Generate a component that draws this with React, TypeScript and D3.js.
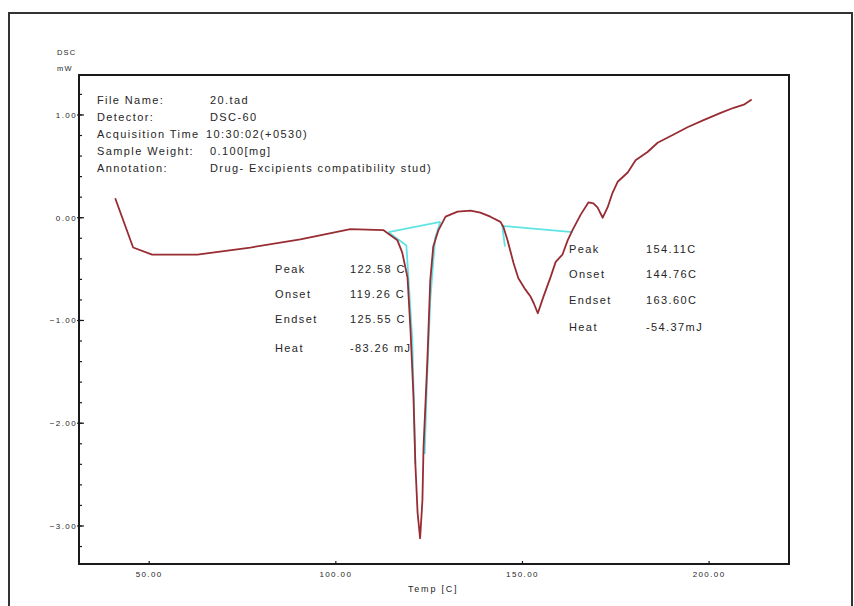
import React from "react";
import * as d3 from "d3";

// DSC thermogram: temperature (C) vs heat flow (mW)
const temps = [
  40.9, 45.7, 50.8, 62.9, 77.1, 90.5, 103.9, 112.7, 116.5, 117.8, 119.2, 120.0,
  120.8, 121.3, 121.9, 122.58, 123.2, 123.5, 124.5, 125.3, 126.1, 127.5, 129.4,
  132.6, 136.1, 138.7, 141.4, 144.1, 144.9, 146.0, 147.6, 148.9, 150.8, 152.2,
  153.0, 154.11, 155.6, 157.5, 158.9, 160.7, 162.1, 163.4, 165.6, 167.7, 169.0,
  170.1, 171.5, 172.8, 174.1, 175.5, 178.2, 180.3, 183.5, 186.2, 190.5, 194.2,
  198.5, 203.1, 206.6, 209.3, 211.4,
];
const heatFlow = [
  0.19, -0.29, -0.36, -0.36, -0.29, -0.21, -0.11, -0.12, -0.22, -0.34, -0.58,
  -1.09, -1.74, -2.39, -2.87, -3.12, -2.75, -2.23, -1.41, -0.61, -0.28, -0.12,
  0.01, 0.06, 0.07, 0.05, 0.01, -0.04, -0.09, -0.22, -0.44, -0.59, -0.7, -0.77,
  -0.83, -0.93, -0.77, -0.58, -0.43, -0.36, -0.22, -0.12, 0.03, 0.15, 0.14, 0.1,
  0.0, 0.1, 0.24, 0.35, 0.44, 0.56, 0.64, 0.73, 0.81, 0.88, 0.95, 1.02, 1.07,
  1.1, 1.15,
];

// Integration baselines / peak boundaries
const peak1LeftT = [114.1, 118.9, 120.5, 121.3];
const peak1LeftV = [-0.14, -0.27, -1.2, -2.4];
const peak1RightT = [128.0, 126.6, 125.3, 124.4, 123.8];
const peak1RightV = [-0.04, -0.2, -0.8, -1.6, -2.3];
const peak2BaseT = [145.3, 144.6, 163.4];
const peak2BaseV = [-0.28, -0.08, -0.14];

const xTicks = [50, 100, 150, 200];
const yTicks = [1, 0, -1, -2, -3];
const yMinorTicks = d3.range(-16, 7).map((i) => i * 0.2);

const infoLabels = ["File Name:", "Detector:", "Acquisition Time", "Sample Weight:", "Annotation:"];
const infoValues = ["20.tad", "DSC-60", "10:30:02(+0530)", "0.100[mg]", "Drug- Excipients compatibility stud)"];

const resultLabels = ["Peak", "Onset", "Endset", "Heat"];
const peak1Values = ["122.58 C", "119.26 C", "125.55 C", "-83.26 mJ"];
const peak2Values = ["154.11C", "144.76C", "163.60C", "-54.37mJ"];

const W = 854;
const H = 606;
const plot = { left: 79, right: 789, top: 75, bottom: 564 };

const font = "'Liberation Sans', Arial, sans-serif";
const textColor = "#262626";

export default function App() {
  const x = d3.scaleLinear().domain([31.2, 221.4]).range([plot.left, plot.right]);
  const y = d3.scaleLinear().domain([-3.37, 1.389]).range([plot.bottom, plot.top]);

  const line = d3
    .line<[number, number]>()
    .x((d) => x(d[0]))
    .y((d) => y(d[1]));

  const zip = (a: number[], b: number[]) => a.map((t, i) => [t, b[i]] as [number, number]);

  const curve = line(zip(temps, heatFlow)) || "";
  const p1Left = line(zip(peak1LeftT, peak1LeftV)) || "";
  const p1Right = line(zip(peak1RightT, peak1RightV)) || "";
  const p1Base =
    line([
      [peak1LeftT[0], peak1LeftV[0]],
      [peak1RightT[0], peak1RightV[0]],
    ]) || "";
  const p2Base = line(zip(peak2BaseT, peak2BaseV)) || "";

  const infoY = [104, 121, 138, 155, 172];
  const p1Y = [273, 298, 323, 352];
  const p2Y = [253, 278, 304, 331];

  const txt = { fontFamily: font, fontSize: 11, letterSpacing: 1.4, fill: textColor };

  return (
    <svg width={W} height={H} style={{ position: "absolute", left: 0, top: 0, background: "#fff" }}>
      <rect x={0} y={0} width={W} height={H} fill="#fff" />
      {/* outer frame */}
      <rect x={9} y={13} width={843} height={610} fill="none" stroke="#333" strokeWidth={2} />

      {/* plot frame */}
      <rect
        x={plot.left}
        y={plot.top}
        width={plot.right - plot.left}
        height={plot.bottom - plot.top}
        fill="none"
        stroke="#1a1a1a"
        strokeWidth={2}
      />

      {/* axis title */}
      <text x={57} y={55} fontFamily={font} fontSize={7.5} letterSpacing={1.2} fill={textColor}>
        DSC
      </text>
      <text x={57} y={71} fontFamily={font} fontSize={7.5} letterSpacing={1.2} fill={textColor}>
        mW
      </text>

      {/* y ticks */}
      {yMinorTicks.map((v) => (
        <line
          key={"m" + v}
          x1={plot.left}
          x2={plot.left + 3}
          y1={y(v)}
          y2={y(v)}
          stroke="#1a1a1a"
          strokeWidth={1.2}
        />
      ))}
      {yTicks.map((v) => (
        <g key={"y" + v}>
          <line x1={plot.left - 2} x2={plot.left + 5} y1={y(v)} y2={y(v)} stroke="#1a1a1a" strokeWidth={1.2} />
          <text
            x={plot.left - 2}
            y={y(v) + 3}
            textAnchor="end"
            fontFamily={font}
            fontSize={8}
            letterSpacing={1.4}
            fill={textColor}
          >
            {d3.format(".2f")(v)}
          </text>
        </g>
      ))}

      {/* x ticks */}
      {xTicks.map((t) => (
        <g key={"x" + t}>
          <line x1={x(t)} x2={x(t)} y1={plot.bottom} y2={plot.bottom - 3} stroke="#1a1a1a" strokeWidth={1.2} />
          <text
            x={x(t)}
            y={577}
            textAnchor="middle"
            fontFamily={font}
            fontSize={8}
            letterSpacing={1.4}
            fill={textColor}
          >
            {d3.format(".2f")(t)}
          </text>
        </g>
      ))}
      <text x={408} y={592} fontFamily={font} fontSize={9} letterSpacing={1.8} fill={textColor}>
        Temp [C]
      </text>

      {/* file information */}
      {infoLabels.map((s, i) => (
        <text key={s} x={97} y={infoY[i]} {...txt}>
          {s}
        </text>
      ))}
      {infoValues.map((s, i) => (
        <text key={s} x={i === 2 ? 206 : 210} y={infoY[i]} {...txt}>
          {s}
        </text>
      ))}

      {/* integration lines */}
      <g fill="none" stroke="#5fe3e3" strokeWidth={1.8}>
        <path d={p1Base} />
        <path d={p1Left} />
        <path d={p1Right} />
        <path d={p2Base} />
      </g>

      {/* thermogram */}
      <path d={curve} fill="none" stroke="#982c33" strokeWidth={1.8} strokeLinejoin="round" />

      {/* peak results */}
      {resultLabels.map((s, i) => (
        <g key={"r" + s}>
          <text x={275} y={p1Y[i]} {...txt}>
            {s}
          </text>
          <text x={350} y={p1Y[i]} {...txt}>
            {peak1Values[i]}
          </text>
          <text x={569} y={p2Y[i]} {...txt}>
            {s}
          </text>
          <text x={646} y={p2Y[i]} {...txt}>
            {peak2Values[i]}
          </text>
        </g>
      ))}
    </svg>
  );
}
